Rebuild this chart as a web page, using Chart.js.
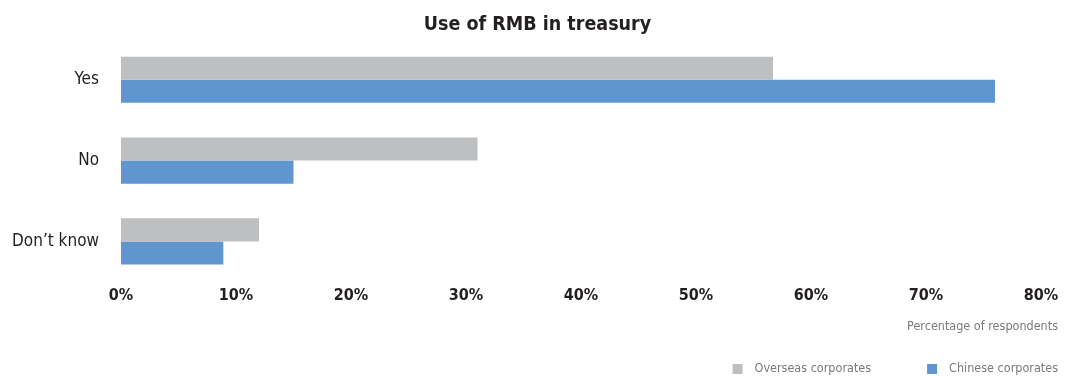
<!DOCTYPE html>
<html>
<head>
  <meta charset="UTF-8">
  <title>Use of RMB in treasury</title>
  <script src="https://cdn.jsdelivr.net/npm/chart.js"></script>
  <style>
    body {
      margin: 0;
      background: #fff;
    }
    #wrap {
      width: 1075px;
      height: 376px;
    }
  </style>
</head>
<body>
  <div id="wrap"><canvas id="chart"></canvas></div>

  <script>
    const categories = ['Yes', 'No', 'Don\u2019t know'];
    const overseas = [56.7, 31, 12];
    const chinese = [76, 15, 8.9];
    const seriesNames = ['Overseas corporates', 'Chinese corporates'];
    const axisNote = 'Percentage of respondents';

    const FONT = "'DejaVu Sans Condensed', 'Liberation Sans Narrow', sans-serif";

    // legend + axis note drawn by hand, right aligned under the plot
    const notes = {
      id: 'notes',
      afterDraw(chart) {
        const c = chart.ctx;
        c.save();
        c.font = '12.5px ' + FONT;
        c.fillStyle = '#7a7a7a';
        c.textAlign = 'right';
        c.textBaseline = 'middle';
        c.fillText(axisNote, 1058, 327);

        let x = 1058;
        const y = 369;
        for (let i = chart.data.datasets.length - 1; i >= 0; i--) {
          const ds = chart.data.datasets[i];
          const w = c.measureText(ds.label).width;
          c.fillStyle = '#7a7a7a';
          c.fillText(ds.label, x, y);
          x -= w + 12;
          c.fillStyle = ds.backgroundColor;
          c.fillRect(x - 10, y - 5, 10, 10);
          x -= 10 + 56;
        }
        c.restore();
      }
    };

    const ctx = document.getElementById('chart').getContext('2d');
    const chart = new Chart(ctx, {
      type: 'bar',
      data: {
        labels: categories,
        datasets: [{
          label: seriesNames[0],
          data: overseas,
          backgroundColor: '#bebfc1'
        },
        {
          label: seriesNames[1],
          data: chinese,
          backgroundColor: '#6096cf'
        }]
      },
      options: {
        indexAxis: 'y',
        responsive: true,
        maintainAspectRatio: false,
        animation: false,
        categoryPercentage: 0.57,
        barPercentage: 1,
        layout: {
          padding: { left: 0, right: 0, top: 0, bottom: 67 }
        },
        plugins: {
          legend: { display: false },
          tooltip: { enabled: false },
          title: {
            display: true,
            text: 'Use of RMB in treasury',
            color: '#231f20',
            font: { family: FONT, size: 19.5, weight: 'bold' },
            padding: { top: 13, bottom: 3 }
          }
        },
        scales: {
          x: {
            min: 0,
            max: 80,
            grid: { display: false, drawTicks: false },
            border: { display: false },
            ticks: {
              stepSize: 10,
              padding: 4,
              color: '#231f20',
              font: { family: FONT, size: 16, weight: 'bold' },
              callback: v => v + '%'
            }
          },
          y: {
            grid: { display: false, drawTicks: false },
            border: { display: false },
            afterFit: s => { s.width = 121; },
            ticks: {
              padding: 22,
              color: '#231f20',
              font: { family: FONT, size: 17 }
            }
          },
          // empty strip on the right so the title centres on the page
          yRight: {
            axis: 'y',
            position: 'right',
            grid: { display: false, drawTicks: false },
            border: { display: false },
            ticks: { display: false },
            afterFit: s => { s.width = 34; }
          }
        }
      },
      plugins: [notes]
    });
  </script>
</body>
</html>
